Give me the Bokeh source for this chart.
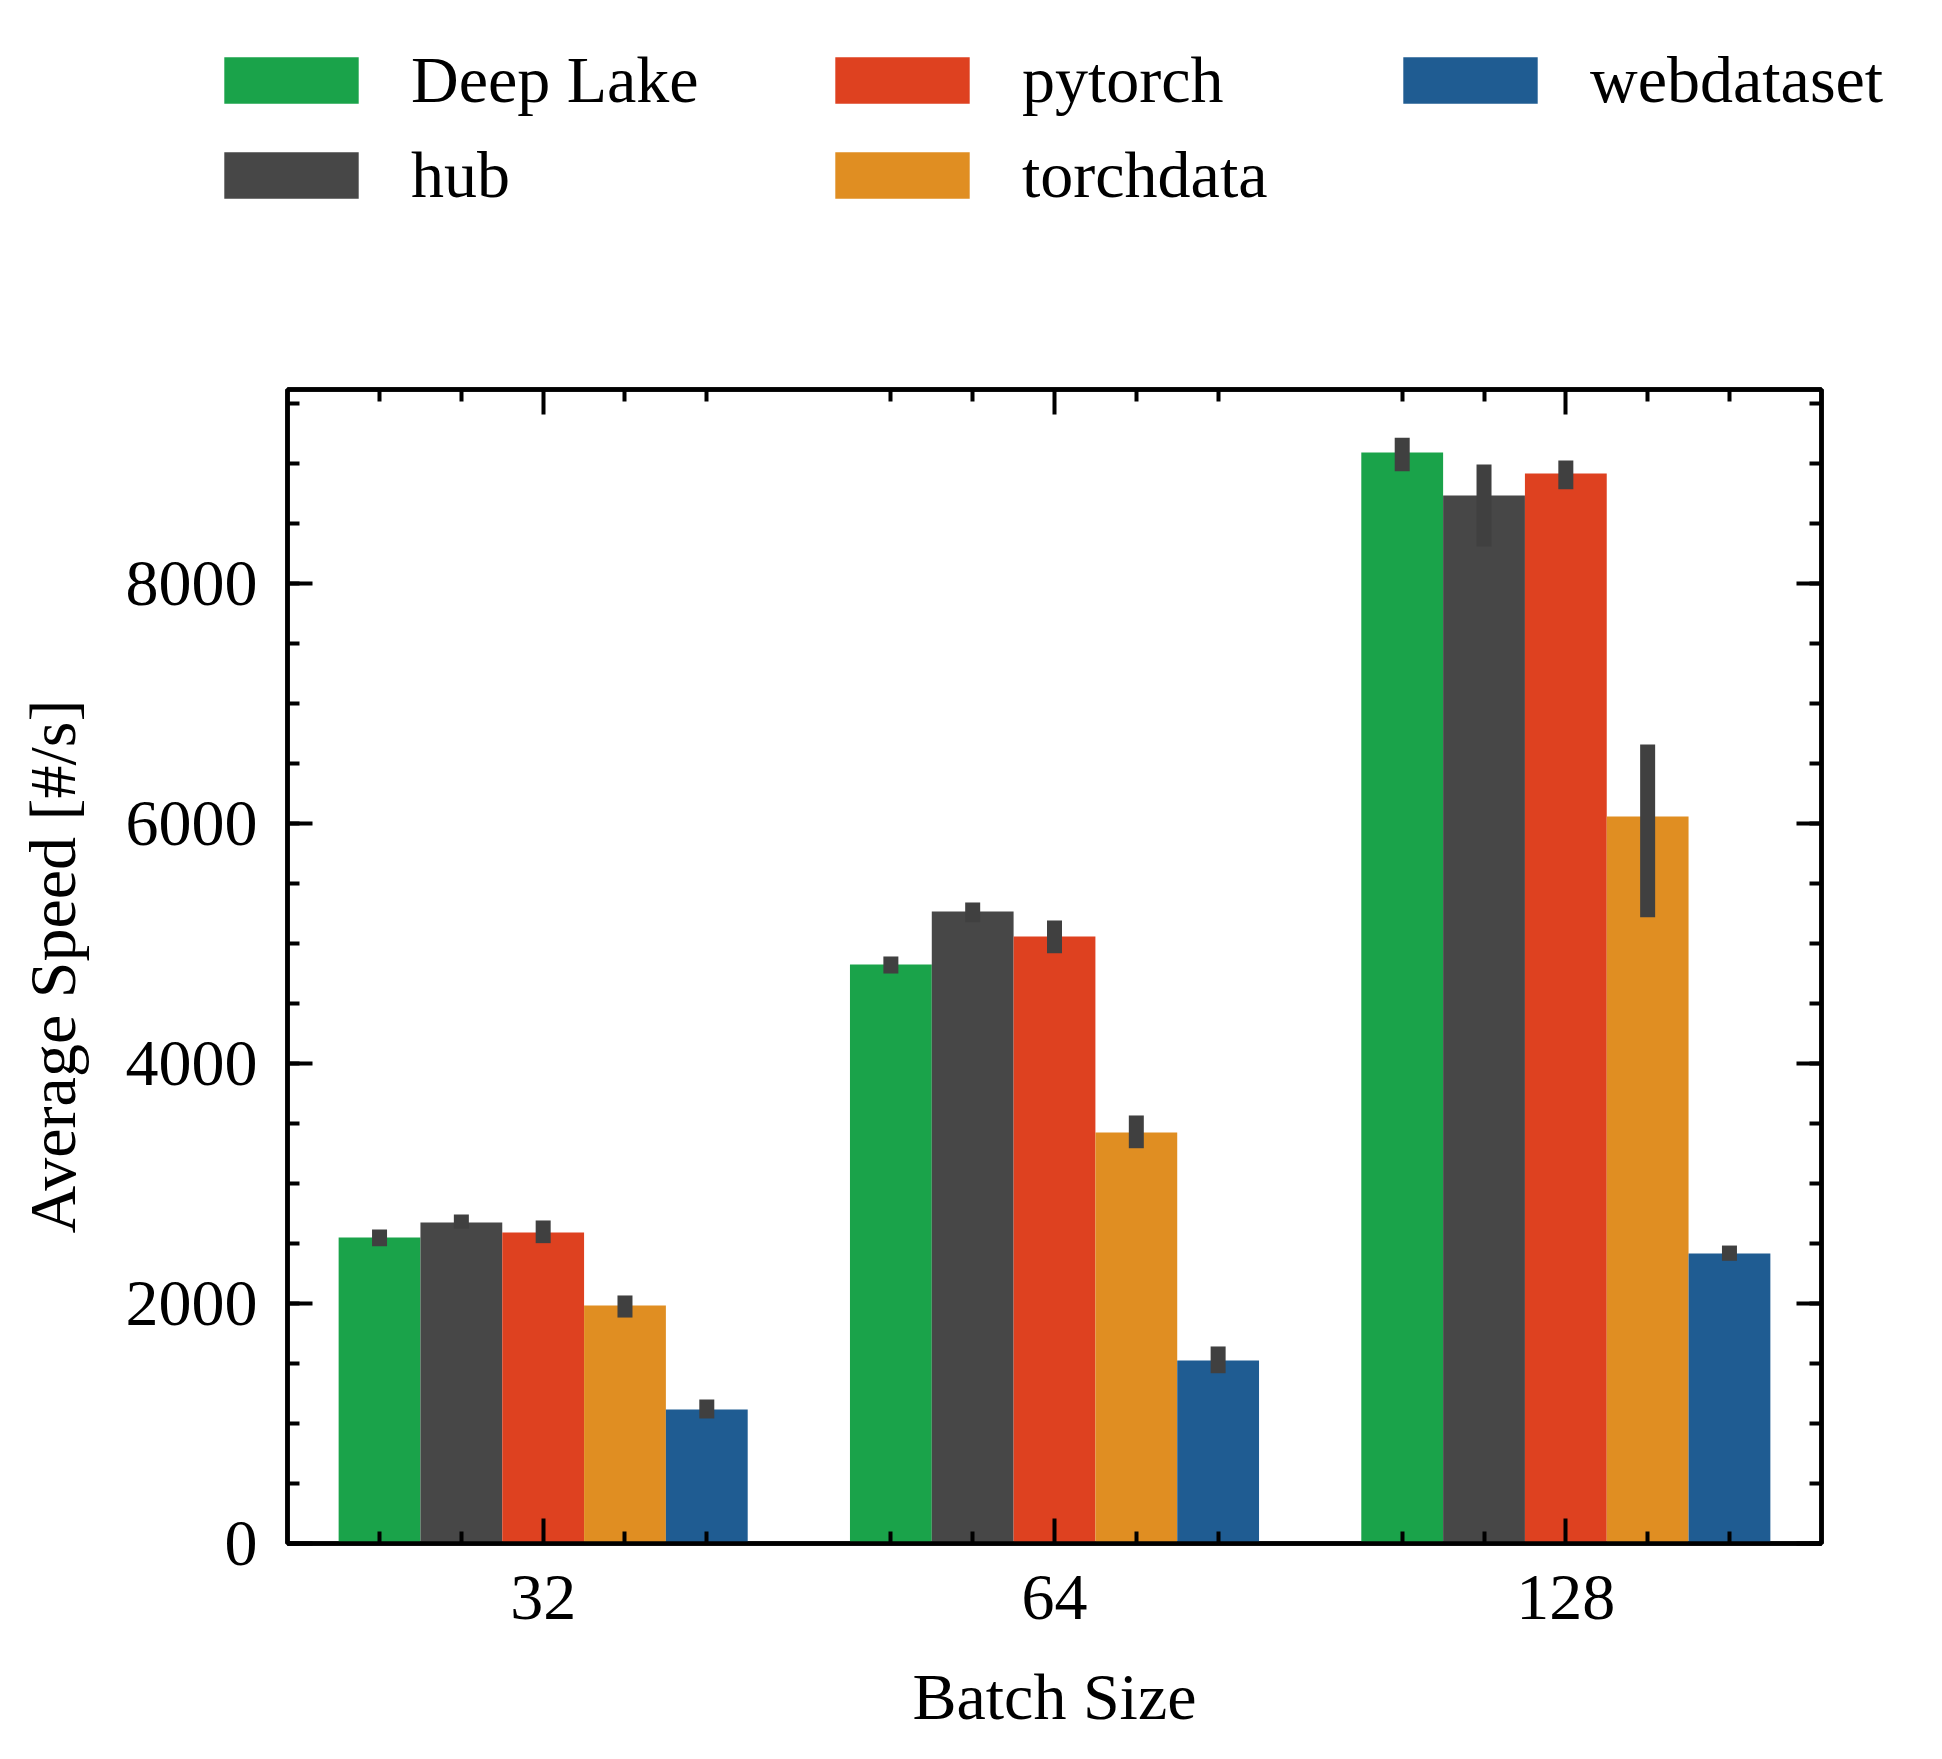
import numpy as np
from bokeh.plotting import figure
from bokeh.models import (ColumnDataSource, Range1d, FixedTicker, LinearAxis,
                          Legend, LegendItem)
from bokeh.transform import dodge
from bokeh.embed import file_html
from bokeh.resources import INLINE

# ---- data ----
categories = ["32", "64", "128"]
series = ["Deep Lake", "hub", "pytorch", "torchdata", "webdataset"]
colors = ["#1aa34a", "#474747", "#de4120", "#e08e22", "#1f5c92"]

deeplake = [2550, 4825, 9092]
deeplake_lo = [2478, 4750, 8936]
deeplake_hi = [2617, 4892, 9214]

hub = [2675, 5267, 8733]
hub_lo = [2622, 5178, 8308]
hub_hi = [2742, 5342, 8992]

pytorch = [2592, 5058, 8917]
pytorch_lo = [2503, 4919, 8786]
pytorch_hi = [2692, 5192, 9025]

torchdata = [1983, 3425, 6058]
torchdata_lo = [1883, 3294, 5219]
torchdata_hi = [2067, 3567, 6658]

webdataset = [1117, 1525, 2417]
webdataset_lo = [1042, 1419, 2356]
webdataset_hi = [1200, 1642, 2483]

y_ticks = [0, 2000, 4000, 6000, 8000]
y_max = 9617

values = [deeplake, hub, pytorch, torchdata, webdataset]
lows = [deeplake_lo, hub_lo, pytorch_lo, torchdata_lo, webdataset_lo]
highs = [deeplake_hi, hub_hi, pytorch_hi, torchdata_hi, webdataset_hi]

FONT = "Liberation Serif"
FS = "66px"

W = 1926
LH = 260                      # height of the legend strip
FRAME_L, FRAME_T = 287, 389   # page position of the plot frame
FRAME_W, FRAME_H = 1534, 1154
MH = 1490                     # main figure height

# ---------------- main plot ----------------
top_border = FRAME_T - LH
p = figure(width=W, height=MH, frame_width=FRAME_W, frame_height=FRAME_H,
           x_range=Range1d(-0.5, len(categories) - 0.5),
           y_range=Range1d(0, y_max),
           output_backend="svg", toolbar_location=None,
           x_axis_label="Batch Size", y_axis_label="Average Speed [#/s]",
           min_border_left=FRAME_L, min_border_top=top_border,
           min_border_right=W - FRAME_L - FRAME_W,
           min_border_bottom=MH - top_border - FRAME_H)
p.xgrid.visible = False
p.ygrid.visible = False
p.outline_line_color = "black"
p.outline_line_width = 4.5
p.background_fill_color = "white"
p.border_fill_color = "white"

n = len(series)
bw = 0.8 / n
for i, name in enumerate(series):
    src = ColumnDataSource(dict(x=list(range(len(categories))), top=values[i],
                                lo=lows[i], hi=highs[i]))
    off = (i - (n - 1) / 2) * bw
    p.vbar(x=dodge("x", off, range=p.x_range), top="top", bottom=0,
           width=bw, source=src, fill_color=colors[i], line_color=None)
    p.segment(x0=dodge("x", off, range=p.x_range), y0="lo",
              x1=dodge("x", off, range=p.x_range), y1="hi", source=src,
              line_color="#404040", line_width=15, line_cap="butt")

x_major = list(range(len(categories)))
x_minor = [round(c + k * bw, 4) for c in x_major for k in (-2, -1, 1, 2)]
x_ticker = FixedTicker(ticks=x_major, minor_ticks=x_minor)
y_ticker = FixedTicker(ticks=y_ticks, minor_ticks=list(range(0, y_max, 500)))

p.add_layout(LinearAxis(), "above")
p.add_layout(LinearAxis(), "right")

for ax in p.xaxis + p.yaxis:
    ax.axis_line_width = 4.5
    ax.axis_line_color = "black"
    ax.major_tick_line_width = 4
    ax.minor_tick_line_width = 4
    ax.major_tick_in = 25
    ax.major_tick_out = 0
    ax.minor_tick_in = 12
    ax.minor_tick_out = 0
    ax.major_label_text_font = FONT
    ax.major_label_text_font_size = FS
    ax.major_label_text_color = "black"
    ax.axis_label_text_font = FONT
    ax.axis_label_text_font_size = FS
    ax.axis_label_text_font_style = "normal"
    ax.axis_label_text_color = "black"

for ax in p.xaxis:
    ax.ticker = x_ticker
    ax.major_label_overrides = {i: c for i, c in enumerate(categories)}
for ax in p.yaxis:
    ax.ticker = y_ticker

p.below[0].major_label_standoff = 32
p.below[0].axis_label_standoff = 38
p.left[0].major_label_standoff = 30
p.left[0].axis_label_standoff = 34
for ax in (p.above[0], p.right[0]):
    ax.major_label_text_font_size = "0px"
    ax.major_label_text_alpha = 0
    ax.major_label_standoff = 0

# ---------------- legend strip (separate root above the plot) ----------------
lf = figure(width=W, height=LH, x_range=Range1d(0, 1), y_range=Range1d(0, 1),
            output_backend="svg", toolbar_location=None,
            x_axis_location=None, y_axis_location=None, min_border=0)
lf.xgrid.visible = False
lf.ygrid.visible = False
lf.outline_line_color = None
lf.border_fill_color = "white"
lf.background_fill_color = "white"

# legend handles: zero-height bars, so only their legend swatches show
handles = [lf.vbar(x=[0.5], top=[0], bottom=0, width=0.1,
                   fill_color=c, line_color=None)
           for c in colors]

ITEM_H = 80
ROW_GAP = 15
ROW1_CENTER = 80
GW, GH = 168, 58      # bokeh insets area swatches by 10% per side -> ~134 x 46
inset = 17
col_x = [224, 835, 1403]         # left edge of each column's swatch
col_items = [[0, 1], [2, 3], [4]]
for cx, idxs in zip(col_x, col_items):
    items = [LegendItem(label=series[j], renderers=[handles[j]]) for j in idxs]
    k = len(idxs)
    top = ROW1_CENTER - ITEM_H // 2
    bottom = top + k * ITEM_H + (k - 1) * ROW_GAP
    lg = Legend(items=items, location=(cx - inset, LH - bottom),
                orientation="vertical", glyph_width=GW, glyph_height=GH,
                label_standoff=53 - inset, spacing=ROW_GAP, padding=0, margin=0,
                label_height=ITEM_H,
                label_text_font=FONT, label_text_font_size=FS,
                label_text_color="black",
                border_line_alpha=0, background_fill_alpha=0)
    lf.add_layout(lg, "center")

open("out.html", "w").write(file_html([lf, p], INLINE))
